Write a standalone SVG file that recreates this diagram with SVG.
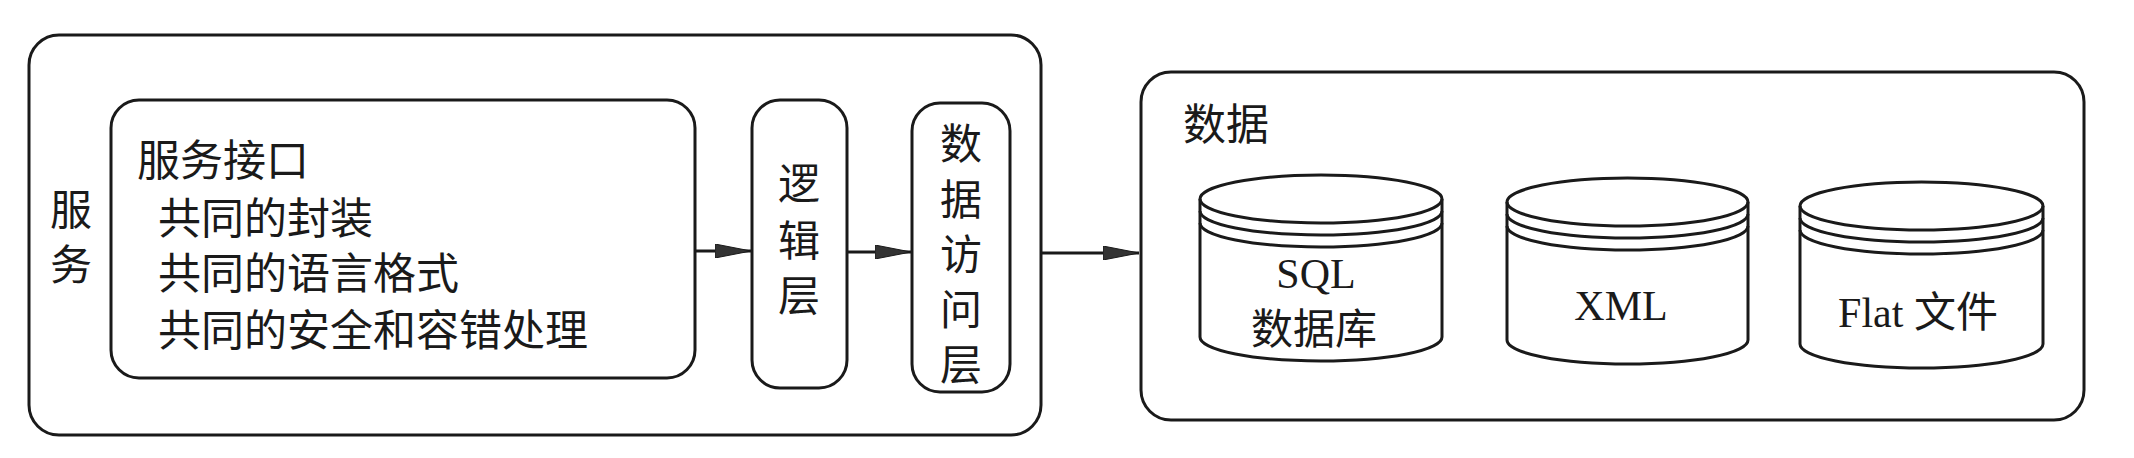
<svg xmlns="http://www.w3.org/2000/svg" width="2134" height="458" viewBox="0 0 2134 458">
<style>
.box{fill:#fff;stroke:#1a1a1a;stroke-width:3}
.cyl{fill:#fff;stroke:#1a1a1a;stroke-width:3}
.band{fill:none;stroke:#1a1a1a;stroke-width:3}
.zh{font-family:"Noto Sans CJK SC","Noto Sans",sans-serif;font-size:43px;fill:#1a1a1a}
.zhc{font-family:"Noto Sans CJK SC","Noto Sans",sans-serif;font-size:42px;fill:#1a1a1a;text-anchor:middle}
.lat{font-family:"Liberation Serif","Noto Sans CJK SC",serif;font-size:42px;fill:#1a1a1a;text-anchor:middle}
.conn{stroke:#1a1a1a;stroke-width:3;fill:none}
</style>
<defs>
<marker id="arr" viewBox="0 0 36 14" refX="36" refY="7" markerWidth="36" markerHeight="14" markerUnits="userSpaceOnUse" orient="auto">
<path d="M0,0 L36,7 L0,14 Z" fill="#333" stroke="#1a1a1a" stroke-width="1"/>
</marker>
</defs>
<rect width="2134" height="458" fill="#fff"/>

<g id="service">
<rect class="box" x="29" y="35" width="1012" height="400" rx="30"/>
<text class="zhc" x="71" y="225">服</text>
<text class="zhc" x="71" y="280">务</text>
</g>

<g id="service-interface">
<rect class="box" x="111" y="100" width="584" height="278" rx="28"/>
<text class="zh" x="137" y="176">服务接口</text>
<text class="zh" x="158" y="234">共同的封装</text>
<text class="zh" x="158" y="289">共同的语言格式</text>
<text class="zh" x="158" y="346">共同的安全和容错处理</text>
</g>

<g id="logic-layer">
<rect class="box" x="752" y="100" width="95" height="288" rx="28"/>
<text class="zhc" x="799" y="199">逻</text>
<text class="zhc" x="799" y="256">辑</text>
<text class="zhc" x="799" y="311">层</text>
</g>

<g id="data-access-layer">
<rect class="box" x="912" y="103" width="98" height="289" rx="28"/>
<text class="zhc" x="961" y="159">数</text>
<text class="zhc" x="961" y="215">据</text>
<text class="zhc" x="961" y="270">访</text>
<text class="zhc" x="961" y="325">问</text>
<text class="zhc" x="961" y="380">层</text>
</g>

<g id="data">
<rect class="box" x="1141" y="72" width="943" height="348" rx="30"/>
<text class="zh" x="1183" y="140">数据</text>
</g>

<g id="sql-db">
<path class="cyl" d="M1200,199 A121,24 0 0 1 1442,199 L1442,337 A121,24 0 0 1 1200,337 Z"/>
<path class="band" d="M1200,199 A121,24 0 0 0 1442,199 M1200,211 A121,24 0 0 0 1442,211 M1200,223 A121,24 0 0 0 1442,223"/>
<text class="lat" x="1316" y="288">SQL</text>
<text class="zhc" x="1314" y="344">数据库</text>
</g>

<g id="xml">
<path class="cyl" d="M1507,202 A120.5,24 0 0 1 1748,202 L1748,340 A120.5,24 0 0 1 1507,340 Z"/>
<path class="band" d="M1507,202 A120.5,24 0 0 0 1748,202 M1507,214 A120.5,24 0 0 0 1748,214 M1507,226 A120.5,24 0 0 0 1748,226"/>
<text class="lat" x="1621" y="320">XML</text>
</g>

<g id="flat-file">
<path class="cyl" d="M1800,206 A121.5,24 0 0 1 2043,206 L2043,344 A121.5,24 0 0 1 1800,344 Z"/>
<path class="band" d="M1800,206 A121.5,24 0 0 0 2043,206 M1800,218 A121.5,24 0 0 0 2043,218 M1800,230 A121.5,24 0 0 0 2043,230"/>
<text class="lat" x="1918" y="327">Flat 文件</text>
</g>

<g id="connectors">
<line class="conn" x1="695" y1="251" x2="751" y2="251" marker-end="url(#arr)"/>
<line class="conn" x1="847" y1="252" x2="911" y2="252" marker-end="url(#arr)"/>
<line class="conn" x1="1041" y1="253" x2="1139" y2="253" marker-end="url(#arr)"/>
</g>
</svg>
